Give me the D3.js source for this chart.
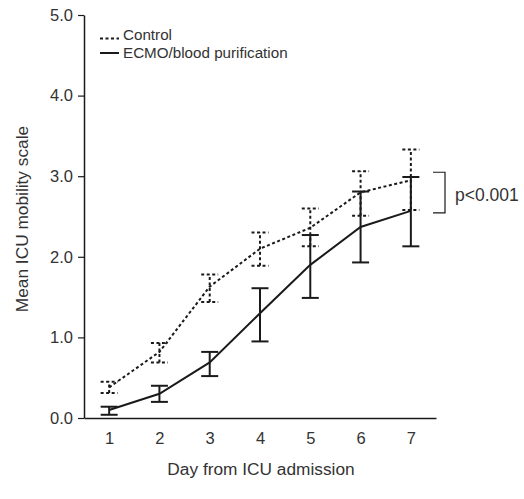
<!DOCTYPE html>
<html><head><meta charset="utf-8">
<script src="https://cdn.jsdelivr.net/npm/d3@7"></script>
<style>body{margin:0;background:#fff}svg text{font-family:"Liberation Sans",Arial,sans-serif;fill:#333}</style>
</head><body><svg id="c" width="524" height="499"></svg>
<script>
const days = [1,2,3,4,5,6,7];
const controlMean = [0.38,0.82,1.63,2.10,2.36,2.80,2.95];
const controlLow  = [0.31,0.69,1.44,1.89,2.13,2.51,2.58];
const controlHigh = [0.45,0.93,1.78,2.30,2.60,3.06,3.33];
const ecmoMean = [0.10,0.30,0.69,1.30,1.90,2.37,2.57];
const ecmoLow  = [0.04,0.20,0.52,0.95,1.49,1.93,2.13];
const ecmoHigh = [0.14,0.40,0.82,1.61,2.27,2.81,2.99];
const yTicks = [0,1,2,3,4,5];
const seriesNames = ["Control","ECMO/blood purification"];

const svg = d3.select("#c");
const x = d3.scaleLinear().domain([0.5,7.5]).range([84,436]);
const y = d3.scaleLinear().domain([0,5]).range([418,15]);
const ink = "#1a1a1a";

const yAxis = svg.append("g").attr("transform","translate(84,0)")
  .call(d3.axisLeft(y).tickValues(yTicks).tickFormat(d3.format(".1f")).tickSize(6).tickSizeOuter(0));
yAxis.attr("font-family",null).attr("font-size",null);
yAxis.select(".domain").attr("stroke",ink).attr("stroke-width",1.5);
yAxis.selectAll(".tick line").attr("stroke",ink).attr("stroke-width",1.2);
yAxis.selectAll(".tick text").style("font-size","16.5px").attr("x",-11).style("fill","#333");

const xAxis = svg.append("g").attr("transform","translate(0,418)")
  .call(d3.axisBottom(x).tickValues(days).tickFormat(d3.format("d")).tickSize(0).tickSizeOuter(0));
xAxis.attr("font-family",null).attr("font-size",null);
xAxis.select(".domain").attr("stroke",ink).attr("stroke-width",1.5);
xAxis.selectAll(".tick text").style("font-size","16.5px").attr("y",26).attr("dy",null).style("fill","#333");

svg.append("text").attr("transform","translate(28,219) rotate(-90)").attr("text-anchor","middle")
  .style("font-size","17.3px").text("Mean ICU mobility scale");
svg.append("text").attr("x",261).attr("y",475).attr("text-anchor","middle")
  .style("font-size","17.3px").text("Day from ICU admission");

function drawSeries(mean, low, high, dash){
  const g = svg.append("g");
  const line = d3.line().x((d,i)=>x(days[i])).y(d=>y(d));
  g.append("path").datum(mean).attr("d",line).attr("fill","none").attr("stroke",ink)
    .attr("stroke-width",2).attr("stroke-dasharray",dash);
  days.forEach((d,i)=>{
    const cx = x(d), hw = 8.5;
    g.append("line").attr("x1",cx).attr("x2",cx).attr("y1",y(low[i])).attr("y2",y(high[i]))
      .attr("stroke",ink).attr("stroke-width",2).attr("stroke-dasharray",dash);
    [low[i],high[i]].forEach(v=>{
      g.append("line").attr("x1",cx-hw).attr("x2",cx+hw).attr("y1",y(v)).attr("y2",y(v))
        .attr("stroke",ink).attr("stroke-width",2).attr("stroke-dasharray",dash);
    });
  });
}
drawSeries(controlMean, controlLow, controlHigh, "3,2.5");
drawSeries(ecmoMean, ecmoLow, ecmoHigh, null);

// legend
const lg = svg.append("g");
lg.append("line").attr("x1",100).attr("x2",119).attr("y1",38.5).attr("y2",38.5).attr("stroke",ink)
  .attr("stroke-width",2).attr("stroke-dasharray","3,2.5");
lg.append("line").attr("x1",100).attr("x2",119).attr("y1",53).attr("y2",53).attr("stroke",ink).attr("stroke-width",2);
lg.append("text").attr("x",123).attr("y",40).style("font-size","15.2px").text(seriesNames[0]);
lg.append("text").attr("x",123).attr("y",57.5).style("font-size","15.2px").text(seriesNames[1]);

// significance bracket
const lastC = controlMean[6], lastE = ecmoMean[6];
svg.append("path").attr("d",`M433,${y(lastC)-8}H445V${y(lastE)+2}H433`).attr("fill","none")
  .attr("stroke",ink).attr("stroke-width",1.2);
svg.append("text").attr("x",455).attr("y",201).style("font-size","17.5px").text("p<0.001");
</script></body></html>
